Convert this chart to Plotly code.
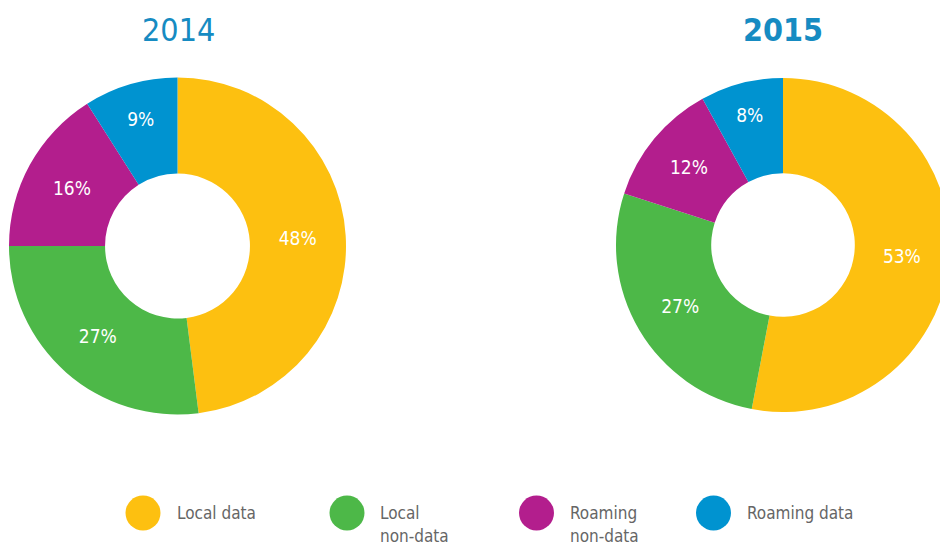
import plotly.graph_objects as go

categories = ["Local data", "Local non-data", "Roaming non-data", "Roaming data"]
legend_lines = [["Local data"], ["Local", "non-data"], ["Roaming", "non-data"], ["Roaming data"]]
values_2014 = [48, 27, 16, 9]
values_2015 = [53, 27, 12, 8]
years = ["2014", "2015"]
colors = ["#FDC010", "#4DB848", "#B31E8D", "#0093D0"]

W, H = 960, 548
FONT = "DejaVu Sans Condensed, sans-serif"

def dom_x(cx, r):
    return [(cx - r) / W, (cx + r) / W]

def dom_y(cy, r):
    return [(H - cy - r) / H, (H - cy + r) / H]

fig = go.Figure()
for vals, cx, cy, r in [(values_2014, 177.5, 246, 168.5), (values_2015, 783, 245, 167)]:
    fig.add_trace(go.Pie(
        labels=categories, values=vals, sort=False, direction="clockwise",
        hole=0.43, marker=dict(colors=colors, line=dict(width=0)),
        texttemplate="%{value}%", textposition="inside",
        insidetextorientation="horizontal",
        textfont=dict(color="white", size=19, family=FONT),
        domain=dict(x=dom_x(cx, r), y=dom_y(cy, r)),
        showlegend=False, hoverinfo="label+percent",
    ))

# titles
fig.add_annotation(x=178 / W, y=(H - 30) / H, xref="paper", yref="paper",
                   xanchor="center", yanchor="middle",
                   text=years[0], showarrow=False,
                   font=dict(size=32, color="#168BC2", family=FONT))
fig.add_annotation(x=783 / W, y=(H - 30) / H, xref="paper", yref="paper",
                   xanchor="center", yanchor="middle",
                   text="<b>" + years[1] + "</b>", showarrow=False,
                   font=dict(size=32, color="#168BC2", family=FONT))

# custom legend
leg_cx = [143, 347, 536.5, 713.5]
leg_tx = [175, 378, 568, 745]
leg_cy = 513
line_gap = 23
rad = 17.5
for i, lines in enumerate(legend_lines):
    fig.add_shape(type="circle", xref="paper", yref="paper",
                  x0=(leg_cx[i] - rad) / W, x1=(leg_cx[i] + rad) / W,
                  y0=(H - leg_cy - rad) / H, y1=(H - leg_cy + rad) / H,
                  fillcolor=colors[i], line=dict(width=0))
    for j, txt in enumerate(lines):
        fig.add_annotation(x=leg_tx[i] / W, y=(H - leg_cy - j * line_gap) / H,
                           xref="paper", yref="paper",
                           text=txt, showarrow=False, xanchor="left", yanchor="middle",
                           font=dict(size=17, color="#666666", family=FONT))

fig.update_layout(width=W, height=H, autosize=False,
                  margin=dict(l=0, r=0, t=0, b=0),
                  paper_bgcolor="white", plot_bgcolor="white")

fig.write_html("out.html", config={"displayModeBar": False},
               post_script="document.body.style.margin='0';document.body.style.overflow='hidden';document.documentElement.style.overflow='hidden';")
